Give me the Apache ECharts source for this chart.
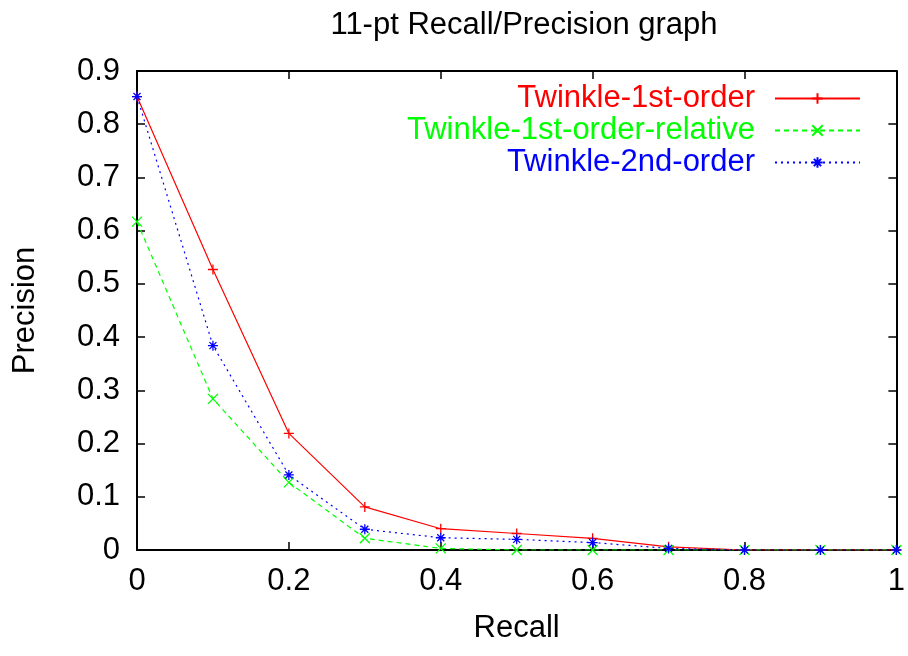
<!DOCTYPE html>
<html><head><meta charset="utf-8">
<script src="https://cdn.jsdelivr.net/npm/echarts@6/dist/echarts.min.js"></script>
<style>html,body{margin:0;padding:0;background:#fff}#c{width:908px;height:656px}</style>
</head><body><div id="c"></div>
<script>
const recall = [0, 0.1, 0.2, 0.3, 0.4, 0.5, 0.6, 0.7, 0.8, 0.9, 1.0];
const firstOrder = [0.852, 0.527, 0.219, 0.081, 0.040, 0.031, 0.022, 0.006, 0, 0, 0];
const firstOrderRelative = [0.617, 0.284, 0.127, 0.022, 0.003, 0, 0, 0, 0, 0, 0];
const secondOrder = [0.852, 0.384, 0.141, 0.039, 0.023, 0.020, 0.014, 0.003, 0, 0, 0];
const seriesNames = ['Twinkle-1st-order', 'Twinkle-1st-order-relative', 'Twinkle-2nd-order'];
const xTicks = [0, 0.2, 0.4, 0.6, 0.8, 1];
const yTicks = [0, 0.1, 0.2, 0.3, 0.4, 0.5, 0.6, 0.7, 0.8, 0.9];

const FONT = 'Liberation Sans';
const FS = 31;
const plus = 'path://M0 5 L10 5 M5 0 L5 10';
const cross = 'path://M0 0 L10 10 M0 10 L10 0';
const star = 'path://M0 5 L10 5 M5 0 L5 10 M1.5 1.5 L8.5 8.5 M1.5 8.5 L8.5 1.5';

function pts(vals){ return recall.map((r,i)=>[r, vals[i]]); }
function mk(name, vals, color, type, sym){
  return {
    name, type:'line', data: pts(vals), symbol: sym, symbolSize: 10,
    showAllSymbol: true,
    lineStyle:{color, width:1.2, type},
    itemStyle:{color:'rgba(0,0,0,0)', borderColor: color, borderWidth:1.3},
    emphasis:{disabled:true}, animation:false, z: 5
  };
}
const chart = echarts.init(document.getElementById('c'), null, {renderer:'canvas'});
const axisCommon = {
  axisLine:{show:true, onZero:false, lineStyle:{color:'#000', width:2}},
  axisTick:{show:true, inside:true, length:8, lineStyle:{color:'#000', width:1.5}},
  splitLine:{show:false}
};
chart.setOption({
  backgroundColor:'#fff',
  animation:false,
  title:{text:'11-pt Recall/Precision graph', left:519, top:5, textAlign:'center',
    textStyle:{fontFamily:FONT, fontSize:FS, fontWeight:'normal', color:'#000'}},
  grid:{left:137, right:8, top:71, bottom:106},
  legend:{
    right:42, top:78, orient:'vertical', align:'right', itemGap:1,
    itemWidth:85, itemHeight:13,
    data: seriesNames.map((n,i)=>({name:n, textStyle:{color:['#ff0000','#00ff00','#0000ff'][i]}})),
    textStyle:{fontFamily:FONT, fontSize:FS, padding:[0,15,0,0]}
  },
  xAxis:[
    Object.assign({type:'value', min:0, max:1, interval:0.2, position:'bottom',
      name:'Recall', nameLocation:'middle', nameGap:63,
      nameTextStyle:{fontFamily:FONT, fontSize:FS, color:'#000'},
      axisLabel:{fontFamily:FONT, fontSize:FS, color:'#000', margin:16,
        formatter:v=>xTicks.includes(+v.toFixed(1)) ? String(+v.toFixed(1)) : ''}}, axisCommon),
    Object.assign({type:'value', min:0, max:1, interval:0.2, position:'top', axisLabel:{show:false}}, axisCommon)
  ],
  yAxis:[
    Object.assign({type:'value', min:0, max:0.9, interval:0.1, position:'left',
      name:'Precision', nameLocation:'middle', nameGap:96, nameRotate:90,
      nameTextStyle:{fontFamily:FONT, fontSize:FS, color:'#000'},
      axisLabel:{fontFamily:FONT, fontSize:FS, color:'#000', margin:17,
        formatter:v=>yTicks.includes(+v.toFixed(1)) ? String(+v.toFixed(1)) : ''}}, axisCommon),
    Object.assign({type:'value', min:0, max:0.9, interval:0.1, position:'right', axisLabel:{show:false}}, axisCommon)
  ],
  series:[
    mk(seriesNames[0], firstOrder, '#ff0000', 'solid', plus),
    mk(seriesNames[1], firstOrderRelative, '#00ff00', [5,4], cross),
    mk(seriesNames[2], secondOrder, '#0000ff', [2,4], star)
  ]
});
</script></body></html>
